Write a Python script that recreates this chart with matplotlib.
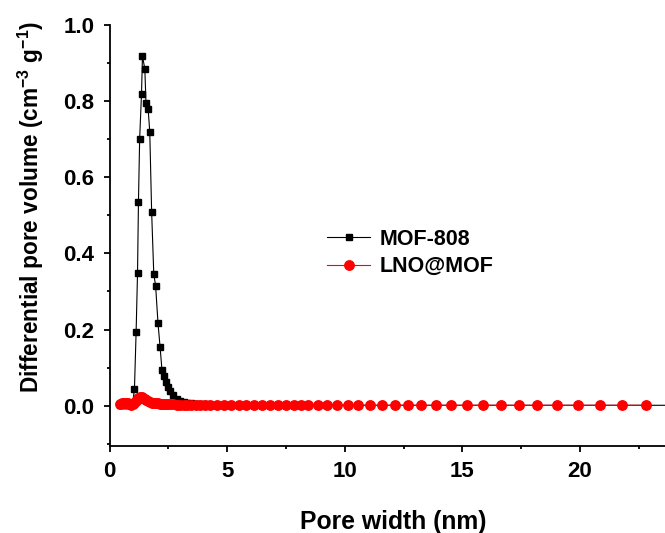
import matplotlib
matplotlib.use("Agg")
import matplotlib.pyplot as plt

plt.rcParams['font.family'] = ['Liberation Sans', 'DejaVu Sans']
plt.rcParams['font.weight'] = 'bold'
plt.rcParams['mathtext.fontset'] = 'custom'
plt.rcParams['mathtext.rm'] = 'Liberation Sans:bold'
plt.rcParams['mathtext.bf'] = 'Liberation Sans:bold'
plt.rcParams['mathtext.default'] = 'bf'

# Pore widths (nm)
pore_width = [0.45, 0.53, 0.61, 0.69, 0.77, 0.85, 0.92, 0.99, 1.06, 1.13,
              1.19, 1.23, 1.28, 1.36, 1.40, 1.50, 1.55, 1.64, 1.71, 1.79,
              1.88, 1.96, 2.06, 2.15, 2.23, 2.32, 2.40, 2.49, 2.58, 2.71,
              2.85, 3.00, 3.15, 3.31, 3.48, 3.66, 3.85, 4.05, 4.26, 4.55,
              4.86, 5.17, 5.49, 5.81, 6.14, 6.47, 6.81, 7.15, 7.50, 7.85,
              8.14, 8.43, 8.86, 9.25, 9.65, 10.13, 10.58, 11.07, 11.57, 12.12,
              12.68, 13.25, 13.87, 14.52, 15.20, 15.89, 16.62, 17.40, 18.18, 19.03,
              19.90, 20.83, 21.78, 22.80]

mof808 = [0.002, 0.002, 0.002, 0.002, 0.002, 0.003, 0.004, 0.008, 0.045, 0.193,
          0.348, 0.536, 0.700, 0.820, 0.918, 0.885, 0.795, 0.780, 0.720, 0.509,
          0.347, 0.314, 0.217, 0.153, 0.093, 0.077, 0.062, 0.049, 0.038, 0.027,
          0.018, 0.012, 0.009, 0.007, 0.006, 0.005, 0.004, 0.004, 0.003, 0.003,
          0.003, 0.003, 0.002, 0.002, 0.002, 0.002, 0.002, 0.002, 0.002, 0.002,
          0.002, 0.002, 0.001, 0.001, 0.001, 0.001, 0.001, 0.001, 0.001, 0.001,
          0.001, 0.001, 0.001, 0.001, 0.001, 0.001, 0.001, 0.001, 0.001, 0.001,
          0.001, 0.001, 0.001, 0.001]
mof808_tail_x = [23.85]
mof808_tail_y = [0.001]

lno_mof = [0.004, 0.006, 0.007, 0.007, 0.006, 0.004, 0.003, 0.004, 0.008, 0.013,
           0.018, 0.020, 0.022, 0.022, 0.021, 0.017, 0.014, 0.011, 0.009, 0.008,
           0.007, 0.006, 0.006, 0.005, 0.005, 0.005, 0.004, 0.004, 0.004, 0.004,
           0.003, 0.003, 0.003, 0.003, 0.003, 0.003, 0.003, 0.003, 0.003, 0.002,
           0.002, 0.002, 0.002, 0.002, 0.002, 0.002, 0.002, 0.002, 0.002, 0.002,
           0.002, 0.002, 0.002, 0.002, 0.002, 0.001, 0.001, 0.001, 0.001, 0.001,
           0.001, 0.001, 0.001, 0.001, 0.001, 0.001, 0.001, 0.001, 0.001, 0.001,
           0.001, 0.001, 0.001, 0.001]

fig = plt.figure(figsize=(6.65, 5.33), dpi=100)
ax = fig.add_axes([0.1647, 0.1632, 1 - 0.1647, 0.9531 - 0.1632])

ax.plot(pore_width + mof808_tail_x, mof808 + mof808_tail_y, color='black', lw=0.8,
        marker='s', markersize=4.8, label='MOF-808', zorder=3)
ax.plot(pore_width, lno_mof, color='red', lw=0.8, marker='o', markersize=6.8,
        label='LNO@MOF', zorder=4)

ax.set_xlim(0, 23.61)
ax.set_ylim(-0.106, 1.0)
ax.set_xticks([0, 5, 10, 15, 20])
ax.set_xticks([2.5, 7.5, 12.5, 17.5, 22.5], minor=True)
ax.set_yticks([0.0, 0.2, 0.4, 0.6, 0.8, 1.0])
ax.set_yticks([-0.1, 0.1, 0.3, 0.5, 0.7, 0.9], minor=True)
ax.set_yticklabels(['0.0', '0.2', '0.4', '0.6', '0.8', '1.0'])

for s in ['top', 'right']:
    ax.spines[s].set_visible(False)
for s in ['left', 'bottom']:
    ax.spines[s].set_linewidth(1.3)

ax.tick_params(which='major', direction='out', length=4.5, width=1.3, labelsize=16, pad=6.5)
ax.tick_params(which='minor', direction='out', length=2.5, width=1.3)
for lab in ax.get_xticklabels() + ax.get_yticklabels():
    lab.set_fontweight('bold')

ax.set_xlabel('Pore width (nm)', fontsize=17.8, fontweight='bold')
ax.xaxis.set_label_coords(0.51, -0.152)
ax.set_ylabel('Differential pore volume (cm$^{-3}$ g$^{-1}$)', fontsize=16.3,
              fontweight='bold')
ax.yaxis.set_label_coords(-0.114, 0.568)

leg = ax.legend(loc='upper left', bbox_to_anchor=(0.3915, 0.516), frameon=False,
                numpoints=1, fontsize=15.5, handlelength=2.0, handletextpad=0.45,
                labelspacing=0.3, borderaxespad=0, borderpad=0)
for t in leg.get_texts():
    t.set_fontweight('bold')

fig.savefig('out.png', dpi=100)
